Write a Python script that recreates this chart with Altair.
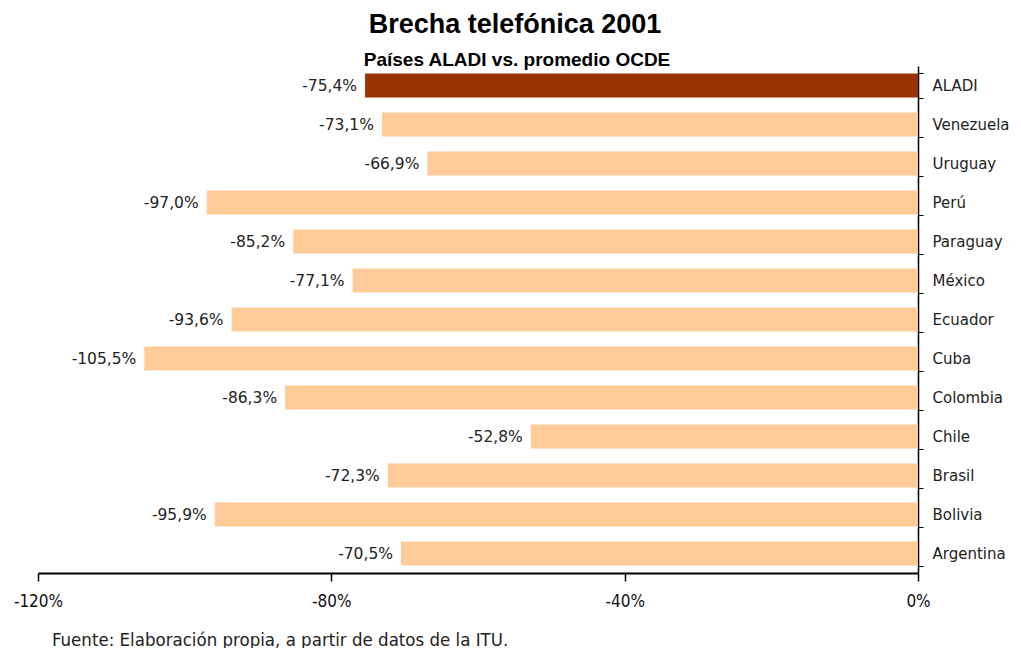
import altair as alt
import pandas as pd

countries = ["ALADI", "Venezuela", "Uruguay", "Perú", "Paraguay", "México", "Ecuador",
             "Cuba", "Colombia", "Chile", "Brasil", "Bolivia", "Argentina"]
values = [-75.4, -73.1, -66.9, -97.0, -85.2, -77.1, -93.6, -105.5, -86.3, -52.8, -72.3, -95.9, -70.5]
x_ticks = [-120, -80, -40, 0]
title_text = "Brecha telefónica 2001"
subtitle_text = "Países ALADI vs. promedio OCDE"
footer_text = "Fuente: Elaboración propia, a partir de datos de la ITU."

df = pd.DataFrame({
    "pais": countries,
    "valor": values,
    "label": [f"{v:.1f}%".replace(".", ",") for v in values],
    "grupo": ["ALADI" if c == "ALADI" else "país" for c in countries],
})

W, H = 880, 507

x = alt.X("valor:Q", scale=alt.Scale(domain=[-120, 0], nice=False),
          axis=alt.Axis(values=x_ticks, labelExpr="datum.value + '%'",
                        grid=False, title=None, domainColor="black", domainWidth=2,
                        tickColor="black", tickSize=8, tickWidth=1.5,
                        labelFont="DejaVu Sans Condensed, Liberation Sans", labelFontSize=17,
                        labelColor="#111", labelPadding=12))
y = alt.Y("pais:N", sort=countries,
          scale=alt.Scale(paddingInner=0.38, paddingOuter=0.19),
          axis=alt.Axis(orient="right", title=None, domainColor="black", domainWidth=1.5,
                        tickColor="black", tickSize=5, tickBand="extent",
                        labelFont="DejaVu Sans", labelFontSize=15, labelColor="#222",
                        labelPadding=9))

bars = alt.Chart(df).mark_bar().encode(
    x=x, x2=alt.datum(0), y=y,
    color=alt.Color("grupo:N", scale=alt.Scale(domain=["ALADI", "país"],
                                               range=["#993300", "#FFCC99"]), legend=None),
)

labels = alt.Chart(df).mark_text(align="right", baseline="middle", dx=-8,
                                 font="DejaVu Sans", fontSize=15.5, color="#222").encode(
    x="valor:Q", y=alt.Y("pais:N", sort=countries), text="label:N")

title = alt.Chart(pd.DataFrame({"t": [title_text]})).mark_text(
    align="center", baseline="middle", font="Liberation Sans", fontSize=27,
    fontWeight="bold", color="black").encode(
    x=alt.value(477), y=alt.value(-41), text="t:N")

subtitle = alt.Chart(pd.DataFrame({"t": [subtitle_text]})).mark_text(
    align="center", baseline="middle", font="Liberation Sans", fontSize=19,
    fontWeight="bold", color="black").encode(
    x=alt.value(479), y=alt.value(-6), text="t:N")

footer = alt.Chart(pd.DataFrame({"t": [footer_text]})).mark_text(
    align="left", baseline="alphabetic", font="DejaVu Sans Condensed, Liberation Sans",
    fontSize=18.5, color="#222").encode(
    x=alt.value(14), y=alt.value(H + 73), text="t:N")

chart = alt.layer(bars, labels, title, subtitle, footer).properties(
    width=W, height=H,
    autosize=alt.AutoSizeParams(type="none"),
    padding={"left": 30, "top": 58, "right": 95, "bottom": 80},
).configure_view(stroke=None).configure_axis(labelFlush=False)

chart.save("out.html", embed_options={"renderer": "svg", "actions": False})
